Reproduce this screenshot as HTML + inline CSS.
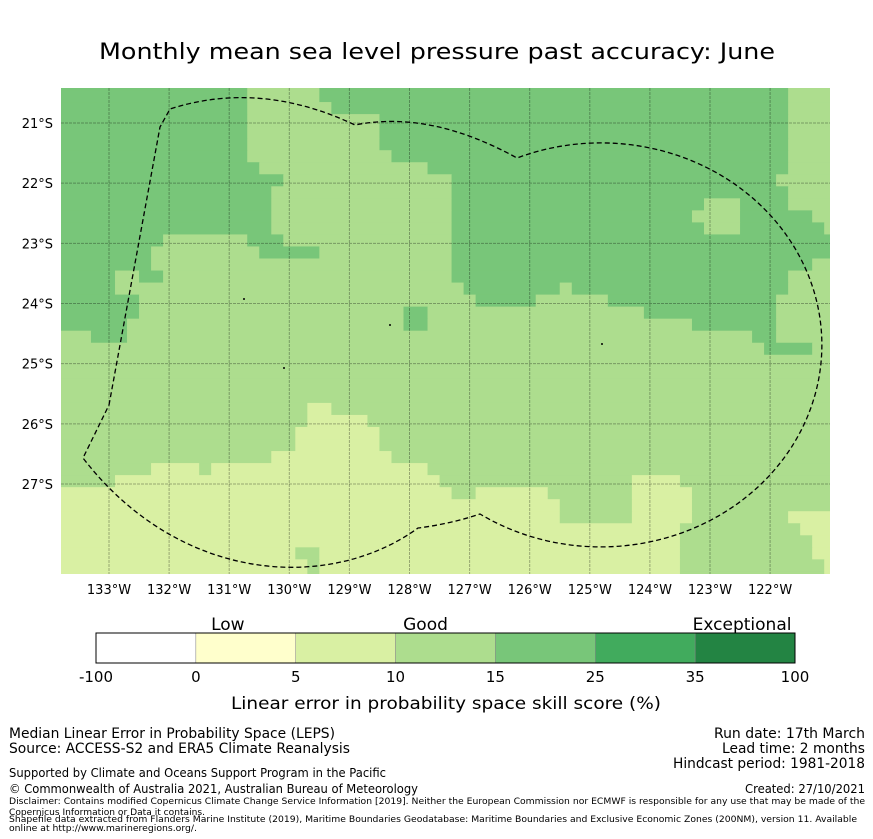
<!DOCTYPE html>
<html><head><meta charset="utf-8"><style>
body{margin:0;background:#fff}
svg{display:block;font-family:"DejaVu Sans","Liberation Sans",sans-serif}
</style></head><body>
<svg id="chart" width="873" height="839" viewBox="0 0 873 839" xmlns="http://www.w3.org/2000/svg">
<rect width="873" height="839" fill="#fff"/>
<text x="437" y="59" font-size="22" text-anchor="middle" textLength="676" lengthAdjust="spacingAndGlyphs">Monthly mean sea level pressure past accuracy: June</text>
<defs><clipPath id="mapclip"><rect x="61" y="88" width="769" height="486"/></clipPath></defs>
<g id="map" clip-path="url(#mapclip)"></g>
<g id="axes"></g>
<g id="cbar"></g>
<text x="446" y="709" font-size="17" text-anchor="middle" textLength="430" lengthAdjust="spacingAndGlyphs">Linear error in probability space skill score (%)</text>
<g font-size="14">
<text x="9" y="738" textLength="326" lengthAdjust="spacingAndGlyphs">Median Linear Error in Probability Space (LEPS)</text>
<text x="9" y="753" textLength="341" lengthAdjust="spacingAndGlyphs">Source: ACCESS-S2 and ERA5 Climate Reanalysis</text>
<text x="865" y="738" text-anchor="end" textLength="151" lengthAdjust="spacingAndGlyphs">Run date: 17th March</text>
<text x="865" y="753" text-anchor="end" textLength="143" lengthAdjust="spacingAndGlyphs">Lead time: 2 months</text>
<text x="865" y="768" text-anchor="end" textLength="192" lengthAdjust="spacingAndGlyphs">Hindcast period: 1981-2018</text>
<text x="9" y="777" font-size="12" textLength="377" lengthAdjust="spacingAndGlyphs">Supported by Climate and Oceans Support Program in the Pacific</text>
<text x="9" y="793" font-size="12" textLength="409" lengthAdjust="spacingAndGlyphs">© Commonwealth of Australia 2021, Australian Bureau of Meteorology</text>
<text x="865" y="793" font-size="12" text-anchor="end" textLength="120" lengthAdjust="spacingAndGlyphs">Created: 27/10/2021</text>
<text x="9" y="804" font-size="9" textLength="856" lengthAdjust="spacingAndGlyphs">Disclaimer: Contains modified Copernicus Climate Change Service Information [2019]. Neither the European Commission nor ECMWF is responsible for any use that may be made of the</text>
<text x="9" y="815" font-size="9" textLength="196" lengthAdjust="spacingAndGlyphs">Copernicus Information or Data it contains.</text>
<text x="9" y="822" font-size="9" textLength="848" lengthAdjust="spacingAndGlyphs">Shapefile data extracted from Flanders Marine Institute (2019), Maritime Boundaries Geodatabase: Maritime Boundaries and Exclusive Economic Zones (200NM), version 11. Available</text>
<text x="9" y="831" font-size="9" textLength="188" lengthAdjust="spacingAndGlyphs">online at http://www.marineregions.org/.</text>
</g>
</svg>
<script>
// Skill category grid (run-length encoded rows, 0.2° cells): a=5-10, b=10-15, c=15-25
const gridRows = [
"c16b6c39b4","c16b6c39b4","c16b7c38b4","c16b11c34b4","c16b11c34b4","c16b11c34b4",
"c16b12c33b4","c17b14c30b4","c19b14c27b5","c18b15c28b4","c18b15c21b3c4b4",
"c18b15c20b4c6b2","c18b15c21b3c7b1","c9b7c3b14c32","c8b9c5b11c32","c8b25c30b2",
"c5b2c2b24c28b4","c5b29c8b1c18b4","c7b28c5b6c14b5","c7b22c2b18c11b5","c6b23c2b22c7b5",
"b3c3b52c2b5","b59c4b2","b65","b65","b65","b65","b21a2b42","b21a5b39","b20a7b38","b20a7b38",
"b18a10b37","b8a4b1a18b34","b5a27b16a4b13","a33b2a6b7a5b12","a42b6a5b12","a42b6a5b8a4",
"a52b10a3","a52b11a2","a20b2a30b11a2","a21b1a30b12a1","a21b1a30b12a1"
];
const lonTicks = [-133,-132,-131,-130,-129,-128,-127,-126,-125,-124,-123,-122];
const latTicks = [-21,-22,-23,-24,-25,-26,-27];
const cbarBounds = ["-100","0","5","10","15","25","35","100"];
const cbarColors = ["#ffffff","#ffffcc","#d9f0a3","#addd8e","#78c679","#41ab5d","#238443"];
const cbarCategories = ["Low","Good","Exceptional"];
const catColor = {a:"#d9f0a3", b:"#addd8e", c:"#78c679"};

const NS="http://www.w3.org/2000/svg";
function mk(tag, attrs){const e=document.createElementNS(NS,tag);for(const k in attrs)e.setAttribute(k,attrs[k]);return e;}
// axis functions
const lonX = lon => 109 + (lon + 133) * 60.1;
const latY = lat => 123 + (-21 - lat) * 60.17;
const CELL = 0.2, lon0 = -133.9, lat0 = -20.252;

const map=document.getElementById('map');
gridRows.forEach((row, r) => {
  const runs = row.match(/[a-z]\d+/g);
  let c = 0;
  runs.forEach(run => {
    const code = run[0], n = parseInt(run.slice(1));
    const x1 = lonX(lon0 + c*CELL), x2 = lonX(lon0 + (c+n)*CELL);
    const y1 = latY(lat0 - r*CELL), y2 = latY(lat0 - (r+1)*CELL);
    const rc = mk('rect',{x:x1,y:y1,width:x2-x1+0.5,height:y2-y1+0.5,fill:catColor[code]});
    
    
    map.appendChild(rc);
    c += n;
  });
});
// gridlines
lonTicks.forEach(l => {
  const ln = mk('line',{x1:lonX(l),x2:lonX(l),y1:88,y2:574,stroke:"rgba(0,0,0,0.3)","stroke-width":1,"stroke-dasharray":"3,1"});
  
  
  map.appendChild(ln);
});
latTicks.forEach(l => {
  const ln = mk('line',{x1:61,x2:830,y1:latY(l),y2:latY(l),stroke:"rgba(0,0,0,0.3)","stroke-width":1,"stroke-dasharray":"3,1"});
  
  
  map.appendChild(ln);
});
// EEZ boundary
const eez = mk('path',{d:"M109,405 L160,127 L170,109 Q260,80 355,125 Q430,110 517,158 A221 202 0 1 1 480,514 Q450,524 418,528 C330,592 180,584 83,458 Z",fill:"none",stroke:"#000","stroke-width":1.3,"stroke-dasharray":"5,3"});


map.appendChild(eez);
[[244,299],[390,325],[284,368],[602,344]].forEach(p=>{
  const d = mk('circle',{cx:p[0],cy:p[1],r:1,fill:"#000"});
  
  
  map.appendChild(d);
});
// tick labels
const axes=document.getElementById('axes');
lonTicks.forEach(l => {
  const t = mk('text',{x:lonX(l),y:594,"font-size":13,"text-anchor":"middle"});
  t.textContent = Math.abs(l) + "°W";
  
  
  axes.appendChild(t);
});
latTicks.forEach(l => {
  const t = mk('text',{x:53,y:latY(l)+5,"font-size":13,"text-anchor":"end"});
  t.textContent = Math.abs(l) + "°S";
  
  
  axes.appendChild(t);
});
// colorbar
const cb=document.getElementById('cbar');
const cbX = i => 96 + i * (699/7);
cbarColors.forEach((col,i) => {
  const r = mk('rect',{x:cbX(i),y:633,width:cbX(i+1)-cbX(i),height:30,fill:col,stroke:"#888","stroke-width":0.5});
  
  
  cb.appendChild(r);
});
const fr = mk('rect',{x:96,y:633,width:699,height:30,fill:"none",stroke:"#000","stroke-width":1});


cb.appendChild(fr);
cbarBounds.forEach((b,i) => {
  const t = mk('text',{x:cbX(i),y:682,"font-size":15,"text-anchor":"middle"});
  t.textContent = b;
  
  
  cb.appendChild(t);
});
const catPos = [1.32, 3.3, 6.47];
cbarCategories.forEach((c,i) => {
  const t = mk('text',{x:cbX(catPos[i]),y:630,"font-size":17,"text-anchor":"middle"});
  t.textContent = c;
  
  
  cb.appendChild(t);
});
</script>
</body></html>
